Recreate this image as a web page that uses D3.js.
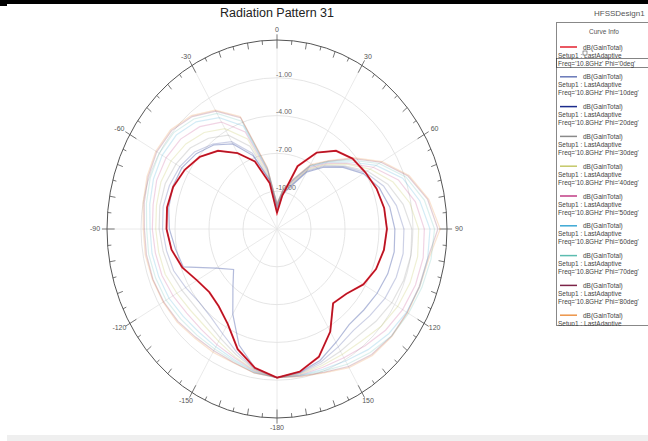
<!DOCTYPE html>
<html>
<head>
<meta charset="utf-8">
<script src="https://cdn.jsdelivr.net/npm/d3@7"></script>
<style>
  html, body { margin: 0; padding: 0; background: #fff; }
  svg { display: block; font-family: "Liberation Sans", Arial, sans-serif; }
</style>
</head>
<body>
<svg id="chart" width="648" height="441"></svg>
<script>
// Theta samples (deg), shared by every Phi cut
var thetas = [-180,-170,-160,-150,-140,-130,-120,-110,-100,-90,-80,-70,-60,-50,-40,-30,-20,-10,
              0,10,20,30,40,50,60,70,80,90,100,110,120,130,140,150,160,170];

// dB(GainTotal) for each Phi cut
var gainPhi0  = [-1.2,-1.8,-2.85,-4.3,-5.0,-5.2,-4.85,-4.1,-3.55,-3.25,-3.15,-3.25,-3.6,-4.1,-4.9,-6.05,-7.3,-9.3,
                 -11.7,-10.3,-7.7,-6.0,-4.9,-4.3,-4.0,-3.65,-3.4,-3.3,-3.42,-3.7,-4.2,-5.0,-5.3,-3.6,-2.2,-1.5];
var gainPhi10 = [-1.2,-1.8,-3.2,-5.2,-6.95,-8.0,-6.8,-4.2,-3.9,-3.5,-3.3,-3.2,-3.3,-3.7,-4.3,-5.2,-6.8,-9.0,
                 -11.4,-10.2,-9.4,-7.8,-6.6,-5.4,-4.2,-3.4,-2.9,-2.6,-2.5,-2.6,-2.8,-3.0,-3.1,-2.6,-1.9,-1.45];
var gainPhi20 = [-1.2,-1.7,-2.6,-3.4,-3.9,-4.0,-3.7,-3.3,-3.1,-2.9,-2.8,-2.9,-3.1,-3.5,-4.2,-5.0,-6.6,-9.0,
                 -11.3,-10.1,-9.3,-7.7,-6.5,-5.3,-4.0,-3.0,-2.3,-1.8,-1.7,-1.8,-2.0,-2.3,-2.5,-2.2,-1.75,-1.4];
var gainPhi30 = [-1.2,-1.65,-2.4,-3.0,-3.4,-3.5,-3.3,-3.0,-2.8,-2.6,-2.5,-2.5,-2.7,-3.0,-3.6,-4.4,-6.0,-8.8,
                 -11.2,-10.0,-9.2,-7.6,-6.4,-5.2,-3.8,-2.6,-1.7,-1.1,-1.0,-1.1,-1.3,-1.6,-1.9,-1.8,-1.6,-1.35];
var gainPhi40 = [-1.2,-1.6,-2.2,-2.7,-3.0,-3.0,-2.8,-2.5,-2.4,-2.3,-2.2,-2.1,-2.2,-2.5,-3.0,-3.8,-5.4,-8.6,
                 -11.2,-10.0,-9.1,-7.5,-6.3,-5.0,-3.5,-2.1,-1.1,-0.5,-0.4,-0.5,-0.7,-1.0,-1.4,-1.5,-1.45,-1.3];
var gainPhi50 = [-1.2,-1.55,-2.1,-2.4,-2.6,-2.6,-2.4,-2.2,-2.1,-2.0,-1.9,-1.7,-1.7,-1.9,-2.4,-3.2,-4.8,-8.4,
                 -11.1,-9.9,-9.0,-7.4,-6.2,-4.9,-3.2,-1.6,-0.6,0.0,0.1,0.0,-0.2,-0.5,-0.9,-1.2,-1.3,-1.25];
var gainPhi60 = [-1.2,-1.5,-1.95,-2.2,-2.3,-2.2,-2.0,-1.9,-1.8,-1.8,-1.6,-1.4,-1.3,-1.4,-1.9,-2.8,-4.3,-8.3,
                 -11.1,-9.9,-8.9,-7.3,-6.1,-4.7,-2.9,-1.2,-0.2,0.5,0.5,0.4,0.2,-0.1,-0.5,-0.9,-1.15,-1.2];
var gainPhi70 = [-1.2,-1.45,-1.85,-2.0,-2.0,-1.9,-1.7,-1.6,-1.5,-1.5,-1.3,-1.1,-1.0,-1.1,-1.6,-2.4,-3.9,-8.2,
                 -11.0,-9.8,-8.9,-7.2,-6.0,-4.5,-2.6,-0.9,0.2,0.9,0.8,0.6,0.4,0.2,-0.2,-0.6,-1.0,-1.2];
var gainPhi80 = [-1.2,-1.4,-1.75,-1.85,-1.8,-1.6,-1.45,-1.35,-1.3,-1.3,-1.1,-0.9,-0.75,-0.85,-1.35,-2.2,-3.6,-8.1,
                 -11.0,-9.8,-8.8,-7.2,-6.0,-4.3,-2.4,-0.7,0.5,1.2,0.5,0.35,0.25,0.2,0.0,-0.4,-0.9,-1.15];
var gainPhi90 = [-1.2,-1.4,-1.7,-1.7,-1.7,-1.5,-1.4,-1.3,-1.2,-1.2,-1.0,-0.8,-0.65,-0.75,-1.25,-2.1,-3.5,-8.0,
                 -11.0,-9.7,-8.8,-7.1,-5.9,-4.2,-2.3,-0.6,0.6,1.4,0.6,0.4,0.3,0.25,0.1,-0.3,-0.85,-1.1];

var phiNames = ["0deg","10deg","20deg","30deg","40deg","50deg","60deg","70deg","80deg","90deg"];
var curveColors = ["#e3202e","#6878b8","#1c2c8c","#8a8a8a","#c4c868","#c03c84","#3ca8d4","#5cbcb0","#7c2448","#ec9448"];
var fadeOpacity = [1, 0.5, 0.22, 0.25, 0.28, 0.22, 0.22, 0.22, 0.22, 0.25];
var allGains = [gainPhi0, gainPhi10, gainPhi20, gainPhi30, gainPhi40, gainPhi50, gainPhi60, gainPhi70, gainPhi80, gainPhi90];

// Grid values
var ringValues = [-10, -7, -4, -1];
var ringLabels = ["-10.00", "-7.00", "-4.00", "-1.00"];
var angleTicks = [0, 30, 60, 90, 120, 150, 180, -150, -120, -90, -60, -30];
var angleLabels = ["0", "30", "60", "90", "120", "150", "-180", "-150", "-120", "-90", "-60", "-30"];

var svg = d3.select("#chart");

// Plot geometry (the HFSS plot is stretched into an ellipse)
var cx = 277, cy = 229, rx = 170, ry = 189;
var rScale = d3.scaleLinear().domain([-13, 2]).range([0, 1]);
var rad = d => d * Math.PI / 180;
function px(theta, f) { return cx + rx * f * Math.sin(rad(theta)); }
function py(theta, f) { return cy - ry * f * Math.cos(rad(theta)); }

// Frame bits of the screenshot
svg.append("rect").attr("x", 0).attr("y", 0).attr("width", 648).attr("height", 4).attr("fill", "#000");
svg.append("rect").attr("x", 0).attr("y", 4).attr("width", 7).attr("height", 2).attr("fill", "#000");
svg.append("rect").attr("x", 7).attr("y", 435).attr("width", 641).attr("height", 6).attr("fill", "#efefef");

// Title
svg.append("text")
  .attr("x", 277).attr("y", 17)
  .attr("text-anchor", "middle")
  .style("font-size", "12.5px")
  .style("fill", "#222")
  .text("Radiation Pattern 31");

svg.append("text")
  .attr("x", 594).attr("y", 16)
  .style("font-size", "8px")
  .style("fill", "#555")
  .text("HFSSDesign1");

var grid = svg.append("g");

// Spokes every 30 deg
grid.selectAll(".spoke")
  .data(d3.range(0, 360, 30))
  .enter().append("line")
  .attr("x1", cx).attr("y1", cy)
  .attr("x2", d => px(d, 1)).attr("y2", d => py(d, 1))
  .attr("stroke", "#e4e4e4")
  .attr("stroke-width", 0.8);

// Gain rings
grid.selectAll(".ring")
  .data(ringValues)
  .enter().append("ellipse")
  .attr("cx", cx).attr("cy", cy)
  .attr("rx", d => rx * rScale(d)).attr("ry", d => ry * rScale(d))
  .attr("fill", "none")
  .attr("stroke", "#e2e2e2")
  .attr("stroke-width", 0.9);

// Outer boundary
grid.append("ellipse")
  .attr("cx", cx).attr("cy", cy).attr("rx", rx).attr("ry", ry)
  .attr("fill", "none")
  .attr("stroke", "#555")
  .attr("stroke-width", 1);

// Ticks along the boundary
grid.selectAll(".tick")
  .data(d3.range(-180, 180, 5))
  .enter().append("line")
  .attr("x1", d => px(d, d % 30 === 0 ? 1.03 : 1))
  .attr("y1", d => py(d, d % 30 === 0 ? 1.03 : 1))
  .attr("x2", d => px(d, d % 30 === 0 ? 0.955 : (d % 10 === 0 ? 0.965 : 0.978)))
  .attr("y2", d => py(d, d % 30 === 0 ? 0.955 : (d % 10 === 0 ? 0.965 : 0.978)))
  .attr("stroke", "#555")
  .attr("stroke-width", 0.8);

// Angle labels
grid.selectAll(".alabel")
  .data(angleTicks)
  .enter().append("text")
  .attr("x", d => cx + (rx + 12) * Math.sin(rad(d)))
  .attr("y", d => cy - (ry + 10) * Math.cos(rad(d)))
  .attr("text-anchor", "middle")
  .attr("dominant-baseline", "middle")
  .style("font-size", "7px")
  .style("fill", "#555")
  .text((d, i) => angleLabels[i]);

// Curves: unselected ones are faded, Phi=0 is highlighted
var line = d3.line()
  .x(d => px(d[0], rScale(d[1])))
  .y(d => py(d[0], rScale(d[1])))
  .curve(d3.curveLinearClosed);

var curves = svg.append("g");
for (var k = allGains.length - 1; k >= 1; k--) {
  curves.append("path")
    .attr("d", line(thetas.map((t, i) => [t, allGains[k][i]])))
    .attr("fill", "none")
    .attr("stroke", curveColors[k])
    .attr("stroke-opacity", fadeOpacity[k])
    .attr("stroke-width", 1.2);
}

// Ring labels
grid.selectAll(".rlabel")
  .data(ringValues)
  .enter().append("text")
  .attr("x", 276)
  .attr("y", d => cy - ry * rScale(d) - 3)
  .attr("dominant-baseline", "middle")
  .style("font-size", "7px")
  .style("fill", "#666")
  .text((d, i) => ringLabels[i]);

var redPts = thetas.map((t, i) => [t, gainPhi0[i]]);
curves.append("path")
  .attr("d", line(redPts))
  .attr("fill", "none")
  .attr("stroke", curveColors[0])
  .attr("stroke-width", 1.9);
curves.append("path")
  .attr("d", line(redPts))
  .attr("fill", "none")
  .attr("stroke", "#7a1020")
  .attr("stroke-width", 0.6);

// Legend (clipped like the scrolled HFSS curve info box)
svg.append("clipPath").attr("id", "legClip")
  .append("rect").attr("x", 550).attr("y", 20).attr("width", 100).attr("height", 306);

var legend = svg.append("g").attr("clip-path", "url(#legClip)");
legend.append("rect")
  .attr("x", 556.5).attr("y", 22.5).attr("width", 110).attr("height", 303)
  .attr("fill", "#fff").attr("stroke", "#888");
legend.append("text")
  .attr("x", 604).attr("y", 34)
  .attr("text-anchor", "middle")
  .style("font-size", "6.5px").style("fill", "#555")
  .text("Curve Info");

var entry = legend.selectAll(".entry")
  .data(phiNames)
  .enter().append("g")
  .attr("transform", (d, i) => "translate(0," + (47 + i * 29.8) + ")");

entry.append("line")
  .attr("x1", 560).attr("x2", 577).attr("y1", 0).attr("y2", 0)
  .attr("stroke", (d, i) => curveColors[i])
  .attr("stroke-width", 1.5);
entry.append("text")
  .attr("x", 583).attr("y", 2.5)
  .style("font-size", "6.5px").style("fill", "#444")
  .text("dB(GainTotal)");
entry.append("text")
  .attr("x", 558).attr("y", 10.5)
  .style("font-size", "6.5px").style("fill", "#444")
  .text("Setup1 : LastAdaptive");
entry.append("text")
  .attr("x", 558).attr("y", 18.5)
  .style("font-size", "6.5px").style("fill", "#444")
  .text(d => "Freq='10.8GHz' Phi='" + d + "'");

// Selected entry marker
legend.append("rect")
  .attr("x", 556.5).attr("y", 58.5).attr("width", 100).attr("height", 9)
  .attr("fill", "none").attr("stroke", "#333").attr("stroke-width", 0.6);
legend.append("rect")
  .attr("x", 583).attr("y", 51).attr("width", 4).attr("height", 4)
  .attr("fill", "#fff").attr("stroke", "#333").attr("stroke-width", 0.5);
</script>
</body>
</html>
